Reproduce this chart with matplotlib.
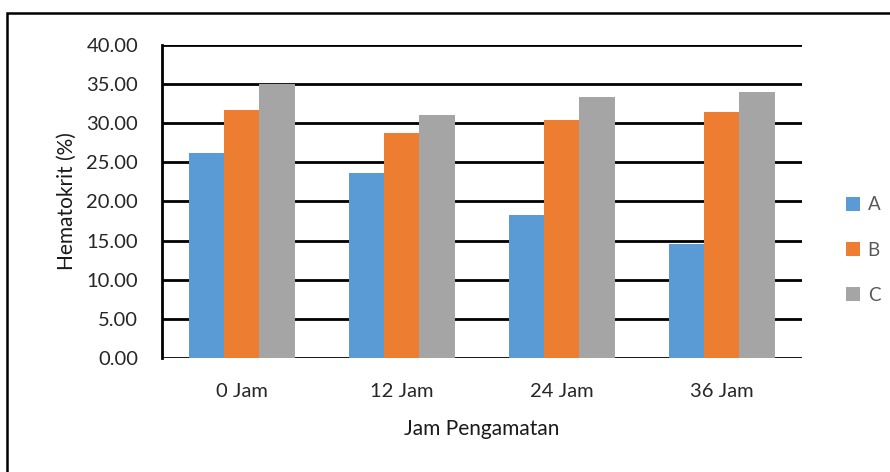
import numpy as np
import matplotlib.pyplot as plt
from matplotlib.patches import Rectangle
from matplotlib.ticker import FormatStrFormatter

plt.rcParams['font.family'] = ['Lato', 'DejaVu Sans']

# data
kategori = ['0 Jam', '12 Jam', '24 Jam', '36 Jam']
nilai_a = [26.2, 23.7, 18.3, 14.6]
nilai_b = [31.7, 28.7, 30.4, 31.4]
nilai_c = [35.0, 31.0, 33.3, 34.0]
seri = ['A', 'B', 'C']
warna = ['#5B9BD5', '#ED7D31', '#A5A5A5']

fig = plt.figure(figsize=(8.9, 4.72), dpi=100)
ax = fig.add_axes([0.1817, 0.2415, 0.7191, 0.6632])

# border luar (hanya kiri dan atas yang terlihat)
fig.patches.append(Rectangle((7 / 890, -0.1), 1.1, 1 - 13 / 472 + 0.1,
                             transform=fig.transFigure, fill=False,
                             edgecolor='black', linewidth=1.8))

x = np.arange(len(kategori))
lebar = 0.22
for i, (vals, nama, w) in enumerate(zip([nilai_a, nilai_b, nilai_c], seri, warna)):
    ax.bar(x + (i - 1) * lebar, vals, lebar, color=w, label=nama, zorder=3)

ax.set_xlim(-0.5, len(kategori) - 0.5)
ax.set_ylim(0, 40)
ax.set_yticks(np.arange(0, 40.1, 5))
ax.yaxis.set_major_formatter(FormatStrFormatter('%.2f'))
ax.grid(axis='y', color='black', linewidth=2, zorder=0)
ax.set_axisbelow(True)

for s in ['top', 'right', 'bottom']:
    ax.spines[s].set_visible(False)
ax.spines['left'].set_linewidth(2)
ax.tick_params(axis='y', length=0, pad=17, labelsize=14.5, labelcolor='#262626')
ax.tick_params(axis='x', length=0, pad=18, labelsize=14.5, labelcolor='#262626')
ax.set_xticks(x)
ax.set_xticklabels(kategori)

ax.set_ylabel('Hematokrit (%)', fontsize=15, color='#1a1a1a', labelpad=7)
ax.set_xlabel('Jam Pengamatan', fontsize=15, color='#1a1a1a', labelpad=14)

leg = ax.legend(loc='center left', bbox_to_anchor=(1.043, 0.345), frameon=False,
                fontsize=13.5, handlelength=0.75, handleheight=0.75,
                handletextpad=0.4, labelspacing=1.5)
for t in leg.get_texts():
    t.set_color('#595959')

plt.savefig('out.png', dpi=100)
